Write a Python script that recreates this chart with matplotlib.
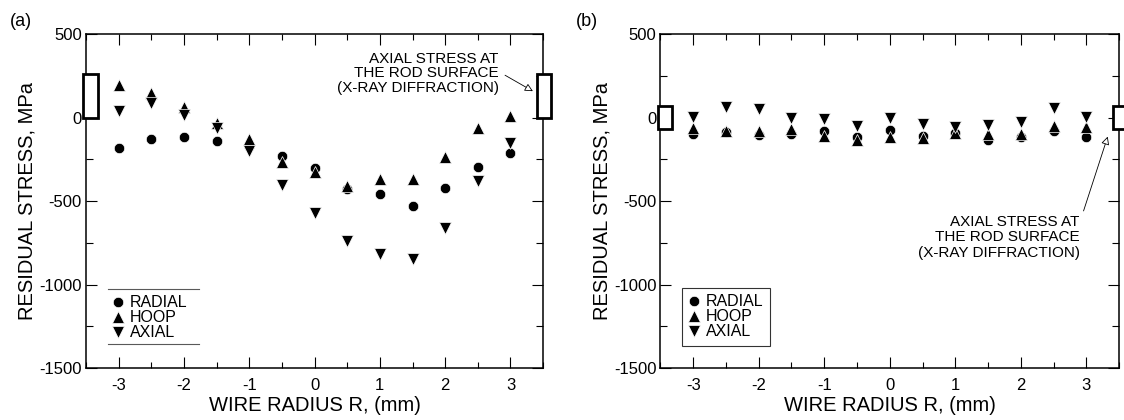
import matplotlib
matplotlib.use('Agg')
import matplotlib.pyplot as plt
from matplotlib.patches import Rectangle
from matplotlib.ticker import MultipleLocator

plt.rcParams['font.family'] = ['Liberation Sans', 'DejaVu Sans']
plt.rcParams['axes.unicode_minus'] = False

# ---------- data ----------
radius = [-3, -2.5, -2, -1.5, -1, -0.5, 0, 0.5, 1, 1.5, 2, 2.5, 3]

# (a)
radial_a = [-185, -131, -119, -139, -170, -232, -305, -428, -460, -530, -424, -294, -215]
hoop_a = [195, 149, 61, -31, -131, -265, -325, -410, -368, -368, -235, -65, 11]
axial_a = [41, 85, 15, -61, -199, -404, -574, -738, -817, -845, -664, -380, -151]

# (b)
radial_b = [-100, -85, -104, -98, -82, -114, -74, -108, -90, -132, -118, -78, -118]
hoop_b = [-65, -82, -78, -68, -108, -132, -118, -122, -95, -98, -98, -48, -54]
axial_b = [5, 66, 54, -2, -6, -48, -2, -38, -54, -42, -28, 58, 2]

# X-ray surface values (rectangles): (bottom, top)
xray_a = (0, 262)
xray_b = (-70, 70)

note = 'AXIAL STRESS AT\nTHE ROD SURFACE\n(X-RAY DIFFRACTION)'


def draw_panel(ax, radial, hoop, axial, xray):
    kw = dict(ls='none', color='black', mec='white', mew=0.5)
    ax.plot(radius, radial, marker='o', ms=7.5, label='RADIAL', **kw)
    ax.plot(radius, hoop, marker='^', ms=9, label='HOOP', **kw)
    ax.plot(radius, axial, marker='v', ms=9, label='AXIAL', **kw)

    # surface boxes on both sides
    for x0 in (-3.54, 3.40):
        r = Rectangle((x0, xray[0]), 0.22, xray[1] - xray[0], fc='white',
                      ec='black', lw=2, clip_on=False, zorder=5)
        ax.add_patch(r)

    ax.set_xlim(-3.5, 3.5)
    ax.set_ylim(-1500, 500)
    ax.xaxis.set_major_locator(MultipleLocator(1))
    ax.xaxis.set_minor_locator(MultipleLocator(0.5))
    ax.yaxis.set_major_locator(MultipleLocator(500))
    ax.yaxis.set_minor_locator(MultipleLocator(250))
    ax.tick_params(which='both', direction='in', top=True, right=True, width=0.8,
                   labelsize=12)
    ax.tick_params(axis='x', which='major', length=8, pad=7)
    ax.tick_params(axis='x', which='minor', length=4)
    ax.tick_params(axis='y', which='major', length=8, pad=3)
    ax.tick_params(axis='y', which='minor', length=5)
    for s in ax.spines.values():
        s.set_linewidth(1.1)

    ax.set_xlabel('WIRE RADIUS R, (mm)', fontsize=14.5, labelpad=2)
    ax.set_ylabel('RESIDUAL STRESS, MPa', fontsize=14.5, labelpad=2)


fig = plt.figure(figsize=(11.24, 4.2), dpi=100)
ax1 = fig.add_axes([0.0765, 0.1238, 0.4067, 0.795])
ax2 = fig.add_axes([0.5876, 0.1238, 0.4080, 0.795])

draw_panel(ax1, radial_a, hoop_a, axial_a, xray_a)
draw_panel(ax2, radial_b, hoop_b, axial_b, xray_b)

fig.text(10 / 1124, 1 - 21 / 420, '(a)', fontsize=13, ha='left', va='center')
fig.text(576 / 1124, 1 - 21 / 420, '(b)', fontsize=13, ha='left', va='center')

# legend (a): no box, only lines above and below
leg1 = ax1.legend(loc='upper left', bbox_to_anchor=(0.048, 0.232), frameon=False,
                  fontsize=11.5, handlelength=0.7, handletextpad=0.35,
                  labelspacing=0.0, borderaxespad=0, borderpad=0.3)
for yy in (0.2365, 0.072):
    ax1.plot([0.048, 0.247], [yy, yy], transform=ax1.transAxes, color='0.35',
             lw=0.8, clip_on=False)

# legend (b): boxed
leg2 = ax2.legend(loc='upper left', bbox_to_anchor=(0.048, 0.2395), frameon=True,
                  fancybox=False, edgecolor='black', fontsize=11.5, handlelength=0.7,
                  handletextpad=0.35, labelspacing=0.0, borderaxespad=0,
                  borderpad=0.4)
leg2.get_frame().set_linewidth(0.8)

# annotations
ax1.text(2.82, 266, note, ha='right', va='center', multialignment='right',
         fontsize=11, linespacing=1.05)
ax1.annotate('', xy=(3.38, 150), xytext=(2.88, 262),
             arrowprops=dict(arrowstyle='-|>', fc='white', ec='black', lw=0.6,
                             mutation_scale=12))

ax2.text(2.9, -718, note, ha='right', va='center', multialignment='right',
         fontsize=11, linespacing=1.1)
ax2.annotate('', xy=(3.34, -98), xytext=(2.945, -575),
             arrowprops=dict(arrowstyle='-|>', fc='white', ec='black', lw=0.6,
                             mutation_scale=12))

fig.savefig('out.png', dpi=100)
